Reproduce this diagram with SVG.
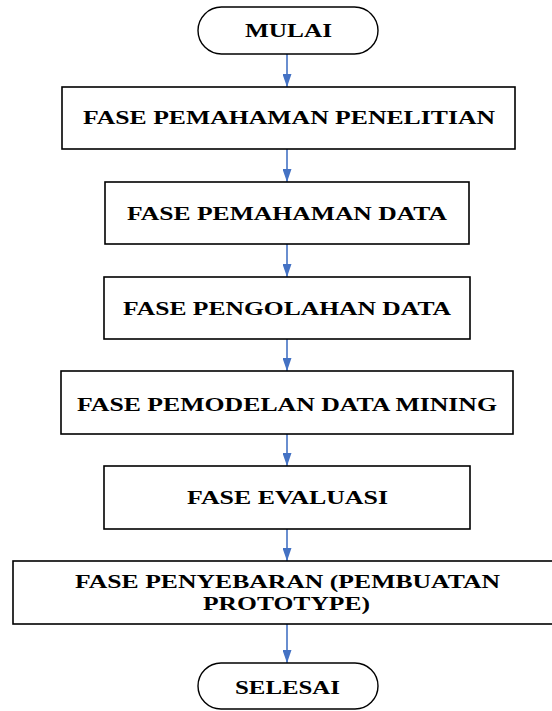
<svg xmlns="http://www.w3.org/2000/svg" width="552" height="711" viewBox="0 0 552 711">
  <defs>
    <style>
      .box { fill: #ffffff; stroke: #000000; stroke-width: 1.6; }
      .term { fill: #ffffff; stroke: #000000; stroke-width: 1.4; }
      .lbl { font-family: "Liberation Serif", "Times New Roman", serif; font-weight: bold; font-size: 18px; fill: #000000; }
      .flow { stroke: #4472C4; stroke-width: 1.6; fill: none; marker-end: url(#tip); }
    </style>
    <marker id="tip" viewBox="0 0 13 9" refX="13" refY="4.5" markerUnits="userSpaceOnUse" markerWidth="13" markerHeight="9" orient="auto">
      <path d="M0,0 L13,4.5 L0,9 Z" fill="#4472C4"/>
    </marker>
  </defs>
  <rect width="552" height="711" fill="#ffffff"/>

  <!-- connectors -->
  <g id="connectors">
    <line class="flow" x1="287" y1="54" x2="287" y2="87"/>
    <line class="flow" x1="287" y1="149" x2="287" y2="182"/>
    <line class="flow" x1="287" y1="244" x2="287" y2="277"/>
    <line class="flow" x1="287" y1="339" x2="287" y2="371"/>
    <line class="flow" x1="287" y1="434" x2="287" y2="466"/>
    <line class="flow" x1="287" y1="529" x2="287" y2="561"/>
    <line class="flow" x1="287" y1="624" x2="287" y2="663"/>
  </g>

  <g id="mulai">
    <rect class="term" x="198" y="7" width="180" height="47" rx="23.5" ry="23.5"/>
    <text class="lbl" x="245" y="37" textLength="87" lengthAdjust="spacingAndGlyphs">MULAI</text>
  </g>

  <g id="fase-pemahaman-penelitian">
    <rect class="box" x="62" y="87" width="453" height="62"/>
    <text class="lbl" x="83" y="124" textLength="412" lengthAdjust="spacingAndGlyphs">FASE PEMAHAMAN PENELITIAN</text>
  </g>

  <g id="fase-pemahaman-data">
    <rect class="box" x="105" y="182" width="364" height="62"/>
    <text class="lbl" x="127" y="220" textLength="320" lengthAdjust="spacingAndGlyphs">FASE PEMAHAMAN DATA</text>
  </g>

  <g id="fase-pengolahan-data">
    <rect class="box" x="104" y="277" width="366" height="62"/>
    <text class="lbl" x="123" y="315" textLength="328" lengthAdjust="spacingAndGlyphs">FASE PENGOLAHAN DATA</text>
  </g>

  <g id="fase-pemodelan-data-mining">
    <rect class="box" x="61" y="371" width="452" height="63"/>
    <text class="lbl" x="77" y="411" textLength="420" lengthAdjust="spacingAndGlyphs">FASE PEMODELAN DATA MINING</text>
  </g>

  <g id="fase-evaluasi">
    <rect class="box" x="104" y="466" width="366" height="63"/>
    <text class="lbl" x="187" y="504" textLength="201" lengthAdjust="spacingAndGlyphs">FASE EVALUASI</text>
  </g>

  <g id="fase-penyebaran">
    <rect class="box" x="13" y="561" width="550" height="63" stroke="#404040" stroke-width="2"/>
    <text class="lbl" x="75" y="588" textLength="425" lengthAdjust="spacingAndGlyphs">FASE PENYEBARAN (PEMBUATAN</text>
    <text class="lbl" x="203" y="610" textLength="167" lengthAdjust="spacingAndGlyphs">PROTOTYPE)</text>
  </g>

  <g id="selesai">
    <rect class="term" x="198" y="663" width="180" height="46" rx="23" ry="23"/>
    <text class="lbl" x="235" y="694" textLength="105" lengthAdjust="spacingAndGlyphs">SELESAI</text>
  </g>
</svg>
